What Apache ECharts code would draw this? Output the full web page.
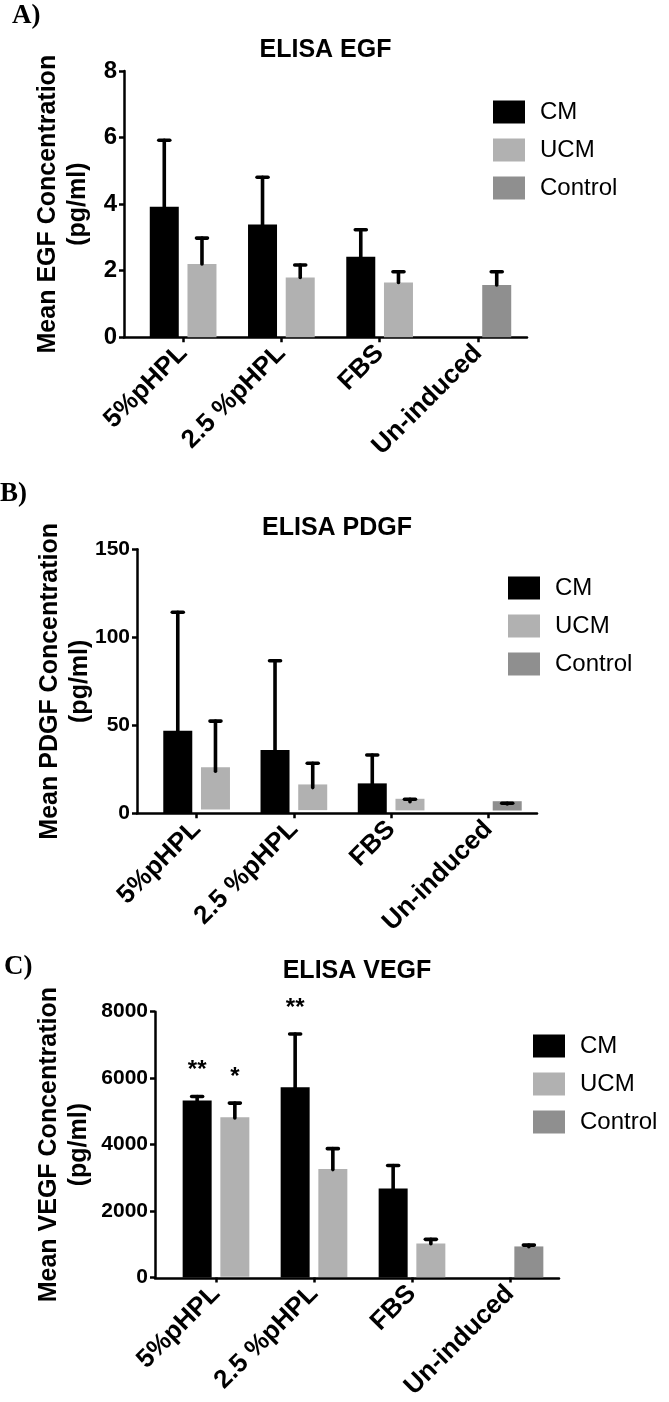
<!DOCTYPE html>
<html>
<head>
<meta charset="utf-8">
<script src="https://cdn.jsdelivr.net/npm/echarts@6/dist/echarts.min.js"></script>
<style>
html,body{margin:0;padding:0;background:#fff;}
#chart{width:669px;height:1402px;}
</style>
</head>
<body>
<div id="chart"></div>
<script>
// ---------- DATA ----------
const categories = ['5%pHPL', '2.5 %pHPL', 'FBS', 'Un-induced'];
const seriesNames = ['CM', 'UCM', 'Control'];

// Panel A: ELISA EGF
const egfCM = [3.92, 3.39, 2.42, null];
const egfCMErr = [2.0, 1.42, 0.81, null];
const egfUCM = [2.20, 1.80, 1.65, null];
const egfUCMErr = [0.78, 0.37, 0.32, null];
const egfControl = [null, null, null, 1.57];
const egfControlErr = [null, null, null, 0.40];
const egfTicks = [0, 2, 4, 6, 8];

// Panel B: ELISA PDGF
const pdgfCM = [46.9, 36.0, 17.0, null];
const pdgfCMErr = [67.3, 50.7, 16.1, null];
const pdgfUCM = [23.9, 14.6, 6.6, null];
const pdgfUCMErr = [28.5, 13.8, 1.4, null];
const pdgfControl = [null, null, null, 5.3];
const pdgfControlErr = [null, null, null, 0.4];
const pdgfTicks = [0, 50, 100, 150];

// Panel C: ELISA VEGF
const vegfCM = [5328, 5730, 2684, null];
const vegfCMErr = [120, 1599, 690, null];
const vegfUCM = [4800, 3249, 1020, null];
const vegfUCMErr = [450, 630, 130, null];
const vegfControl = [null, null, null, 930];
const vegfControlErr = [null, null, null, 48];
const vegfTicks = [0, 2000, 4000, 6000, 8000];
const vegfSigCM = ['**', '**', '', ''];
const vegfSigUCM = ['*', '', '', ''];

// ---------- STYLE ----------
const FONT = 'Liberation Sans, Arial, sans-serif';
const COLORS = { CM: '#000000', UCM: '#b1b1b1', Control: '#8f8f8f' };
const BW = 29, GAP = 0.3;
const AXW = 2.5;

const panels = [
  { title: 'ELISA EGF', letter: 'A)', yName: 'Mean EGF Concentration\n(pg/ml)',
    cm: egfCM, cmErr: egfCMErr, ucm: egfUCM, ucmErr: egfUCMErr, ctl: egfControl, ctlErr: egfControlErr,
    ticks: egfTicks, sigCM: null, sigUCM: null,
    axisX: 124, left: 134, right: 527, top: 71, bottom: 337.3, nameGap: 31, labelSize: 24, xLabelSize: 26,
    titleY: 50, letterX: 12, letterY: 16, legendTop: 95, legendLeft: 488 },
  { title: 'ELISA PDGF', letter: 'B)', yName: 'Mean PDGF Concentration\n(pg/ml)',
    cm: pdgfCM, cmErr: pdgfCMErr, ucm: pdgfUCM, ucmErr: pdgfUCMErr, ctl: pdgfControl, ctlErr: pdgfControlErr,
    ticks: pdgfTicks, sigCM: null, sigUCM: null,
    axisX: 137, left: 148, right: 537, top: 549.3, bottom: 813.3, nameGap: 42, labelSize: 21, xLabelSize: 26,
    titleY: 528, letterX: 0, letterY: 494, legendTop: 571, legendLeft: 503 },
  { title: 'ELISA VEGF', letter: 'C)', yName: 'Mean VEGF Concentration\n(pg/ml)',
    cm: vegfCM, cmErr: vegfCMErr, ucm: vegfUCM, ucmErr: vegfUCMErr, ctl: vegfControl, ctlErr: vegfControlErr,
    ticks: vegfTicks, sigCM: vegfSigCM, sigUCM: vegfSigUCM,
    axisX: 155, left: 167, right: 559, top: 1011.7, bottom: 1278.3, nameGap: 61, labelSize: 21, xLabelSize: 26,
    titleY: 971, letterX: 4, letterY: 967, legendTop: 1029, legendLeft: 528 }
];

const H = 1402, W = 669;
const grids = [], xAxes = [], yAxes = [], series = [], legends = [], graphics = [];

function errRenderer(sign, sig) {
  return function (params, api) {
    const i = api.value(0), v = api.value(1), e = api.value(2);
    const off = sign * (BW + BW * GAP) / 2;
    const p0 = api.coord([i, v]);
    const p1 = api.coord([i, v + e]);
    const x = p0[0] + off;
    const st = { stroke: '#000', lineWidth: 3.6, lineCap: 'round' };
    const children = [
      { type: 'line', shape: { x1: x, y1: p0[1], x2: x, y2: p1[1] }, style: st },
      { type: 'line', shape: { x1: x - 5.5, y1: p1[1], x2: x + 5.5, y2: p1[1] }, style: st }
    ];
    if (sig && sig[i]) {
      children.push({ type: 'text', x: x, y: p1[1] - 14,
        style: { text: sig[i], textAlign: 'center', textVerticalAlign: 'bottom',
                 font: 'bold 24px ' + FONT, fill: '#000' } });
    }
    return { type: 'group', children: children };
  };
}
function toErrData(vals, errs) {
  const out = [];
  vals.forEach((v, i) => { if (v != null) out.push([i, v, errs[i]]); });
  return out;
}

panels.forEach((p, k) => {
  const g = 2 * k, ga = 2 * k + 1;
  const yMax = p.ticks[p.ticks.length - 1];
  const yInt = p.ticks[1] - p.ticks[0];
  grids.push({ left: p.left, width: p.right - p.left, top: p.top, height: p.bottom - p.top, containLabel: false });
  grids.push({ left: p.axisX, width: p.right - p.axisX, top: p.top, height: p.bottom - p.top, containLabel: false });

  xAxes.push({
    type: 'category', gridIndex: g, data: categories,
    axisLine: { show: false },
    axisTick: { show: true, alignWithLabel: true, length: 5, lineStyle: { color: '#000', width: AXW } },
    axisLabel: { rotate: 45, margin: 12, color: '#000', fontWeight: 'bold', fontSize: p.xLabelSize, fontFamily: FONT, interval: 0 }
  });
  xAxes.push({
    type: 'value', gridIndex: ga, min: 0, max: 1,
    axisLine: { show: true, onZero: false, lineStyle: { color: '#000', width: AXW } },
    axisTick: { show: false }, axisLabel: { show: false }, splitLine: { show: false }
  });
  yAxes.push({
    type: 'value', gridIndex: g, min: 0, max: yMax, interval: yInt, offset: p.left - p.axisX,
    name: p.yName, nameLocation: 'middle', nameRotate: 90, nameGap: p.nameGap, nameMoveOverlap: false,
    nameTextStyle: { color: '#000', fontWeight: 'bold', fontSize: 25, fontFamily: FONT, lineHeight: 30 },
    axisLine: { show: true, lineStyle: { color: '#000', width: AXW } },
    axisTick: { show: true, length: 5, lineStyle: { color: '#000', width: AXW } },
    axisLabel: { margin: 7, color: '#000', fontWeight: 'bold', fontSize: p.labelSize, fontFamily: FONT,
                 formatter: function (v) { return String(v); } },
    splitLine: { show: false }
  });
  yAxes.push({ type: 'value', gridIndex: ga, min: 0, max: yMax, show: false });

  const base = { type: 'bar', xAxisIndex: 2 * k, yAxisIndex: 2 * k, barWidth: BW, barGap: (GAP * 100) + '%' };
  series.push(Object.assign({}, base, { name: 'CM', data: p.cm, itemStyle: { color: COLORS.CM } }));
  series.push(Object.assign({}, base, { name: 'UCM', stack: 'g2', data: p.ucm, itemStyle: { color: COLORS.UCM } }));
  series.push(Object.assign({}, base, { name: 'Control', stack: 'g2', data: p.ctl, itemStyle: { color: COLORS.Control } }));

  const cbase = { type: 'custom', xAxisIndex: 2 * k, yAxisIndex: 2 * k, z: 5, clip: false,
                  encode: { x: 0, y: 1 }, silent: true };
  series.push(Object.assign({}, cbase, { name: 'errCM' + k, renderItem: errRenderer(-1, p.sigCM), data: toErrData(p.cm, p.cmErr) }));
  series.push(Object.assign({}, cbase, { name: 'errUCM' + k, renderItem: errRenderer(1, p.sigUCM), data: toErrData(p.ucm, p.ucmErr) }));
  series.push(Object.assign({}, cbase, { name: 'errCtl' + k, renderItem: errRenderer(1, null), data: toErrData(p.ctl, p.ctlErr) }));

  legends.push({
    data: seriesNames, orient: 'vertical', left: p.legendLeft, top: p.legendTop,
    icon: 'rect', itemWidth: 32, itemHeight: 23, itemGap: 14, selectedMode: false,
    textStyle: { color: '#000', fontSize: 24, fontFamily: FONT, padding: [0, 0, 0, 10] }
  });

  graphics.push({ type: 'text', x: (p.axisX + p.right) / 2, y: p.titleY,
    style: { text: p.title, textAlign: 'center', textVerticalAlign: 'middle', font: 'bold 25px ' + FONT, fill: '#000' } });
  graphics.push({ type: 'text', x: p.letterX, y: p.letterY,
    style: { text: p.letter, textAlign: 'left', textVerticalAlign: 'middle', font: 'bold 27px "Liberation Serif", "Times New Roman", serif', fill: '#000' } });
});

const chart = echarts.init(document.getElementById('chart'), null, { renderer: 'canvas', width: W, height: H });
chart.setOption({
  backgroundColor: '#ffffff',
  animation: false,
  grid: grids, xAxis: xAxes, yAxis: yAxes, series: series, legend: legends, graphic: graphics
});
</script>
</body>
</html>
